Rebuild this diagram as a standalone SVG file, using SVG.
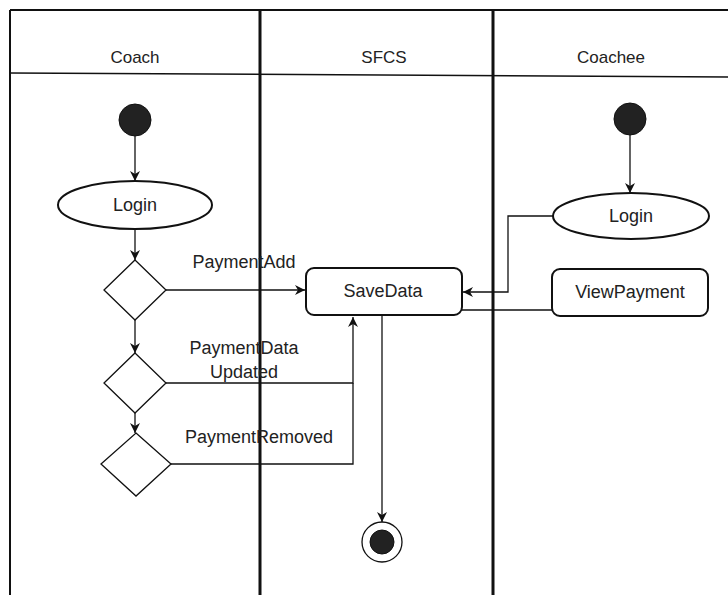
<svg xmlns="http://www.w3.org/2000/svg" width="728" height="595" viewBox="0 0 728 595">
<style>
text{font-family:"Liberation Sans",Arial,sans-serif;font-size:18px;fill:#222;text-anchor:middle}
text.hd{font-size:17px}
.ln{stroke:#111;stroke-width:1.3;fill:none}
.lane{stroke:#111;fill:none}
.node{fill:#fff;stroke:#111;stroke-width:2}
.dia{fill:#fff;stroke:#111;stroke-width:1.3}
.dot{fill:#222;stroke:#111}
</style>
<defs>
<marker id="ah" viewBox="0 0 10 10" refX="10" refY="5" markerWidth="10" markerHeight="10" markerUnits="userSpaceOnUse" orient="auto">
<path d="M0,0 L10,5 L0,10 L3,5 Z" fill="#111"/>
</marker>
</defs>
<rect width="728" height="595" fill="#fff"/>
<g id="lanes">
<line class="lane" x1="10" y1="10" x2="728" y2="10" stroke-width="2"/>
<line class="lane" x1="10" y1="73" x2="728" y2="77" stroke-width="1.5"/>
<line class="lane" x1="10" y1="10" x2="10" y2="595" stroke-width="2"/>
<line class="lane" x1="260" y1="10" x2="260" y2="595" stroke-width="3"/>
<line class="lane" x1="493" y1="10" x2="493" y2="595" stroke-width="3"/>
<text class="hd" x="135" y="63">Coach</text>
<text class="hd" x="384" y="63">SFCS</text>
<text class="hd" x="611" y="63">Coachee</text>
</g>
<g id="connectors">
<line class="ln" x1="135" y1="136" x2="135" y2="181" marker-end="url(#ah)"/>
<line class="ln" x1="135" y1="229" x2="135" y2="260" marker-end="url(#ah)"/>
<line class="ln" x1="135" y1="320" x2="135" y2="353" marker-end="url(#ah)"/>
<line class="ln" x1="135" y1="413" x2="135" y2="433" marker-end="url(#ah)"/>
<line class="ln" x1="166" y1="290" x2="305" y2="290" marker-end="url(#ah)"/>
<polyline class="ln" points="166,383 353,383 353,317" marker-end="url(#ah)"/>
<polyline class="ln" points="171,464 353,464 353,383"/>
<line class="ln" x1="382" y1="315" x2="382" y2="522" marker-end="url(#ah)"/>
<line class="ln" x1="630" y1="135" x2="630" y2="193" marker-end="url(#ah)"/>
<polyline class="ln" points="553,216 508,216 508,292 463,292" marker-end="url(#ah)"/>
<line class="ln" x1="552" y1="310" x2="462" y2="310"/>
<text x="244" y="268">PaymentAdd</text>
<text x="244" y="354">PaymentData</text>
<text x="244" y="378">Updated</text>
<text x="259" y="443">PaymentRemoved</text>
</g>
<g id="coach-start"><circle class="dot" cx="135" cy="120" r="16"/></g>
<g id="coach-login"><ellipse class="node" cx="135" cy="205" rx="77" ry="24"/><text x="135" y="211">Login</text></g>
<g id="dec-add"><polygon class="dia" points="135,260 166,290 135,320 104,290"/></g>
<g id="dec-update"><polygon class="dia" points="135,353 166,383 135,413 104,383"/></g>
<g id="dec-remove"><polygon class="dia" points="136,433 171,464 136,496 101,464"/></g>
<g id="savedata"><rect class="node" x="306" y="268" width="156" height="47" rx="8"/><text x="383" y="297">SaveData</text></g>
<g id="final"><circle cx="382" cy="542" r="20" fill="#fff" stroke="#111" stroke-width="1.3"/><circle class="dot" cx="382" cy="542" r="12"/></g>
<g id="coachee-start"><circle class="dot" cx="630" cy="119" r="16"/></g>
<g id="coachee-login"><ellipse class="node" cx="631" cy="216" rx="78" ry="23"/><text x="631" y="222">Login</text></g>
<g id="viewpayment"><rect class="node" x="552" y="269" width="156" height="47" rx="8"/><text x="630" y="298">ViewPayment</text></g>
</svg>
